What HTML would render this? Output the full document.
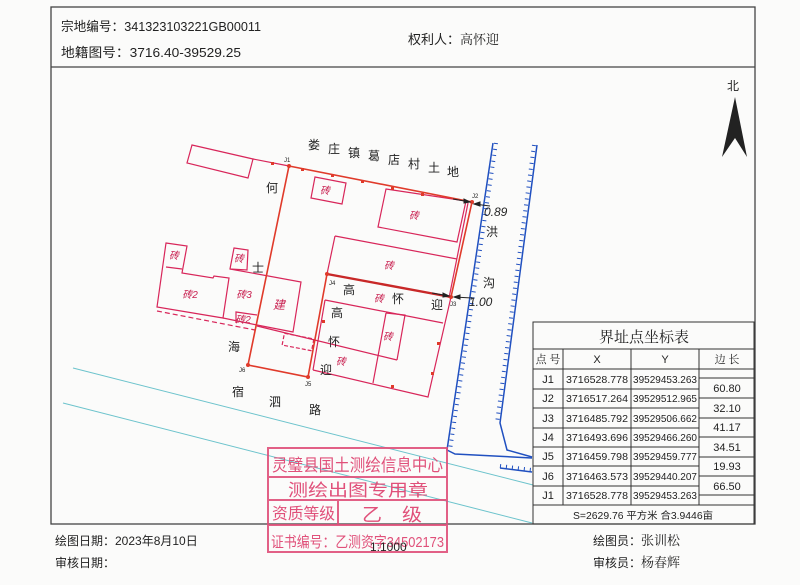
<!DOCTYPE html>
<html><head><meta charset="utf-8"><style>
html,body{margin:0;padding:0;background:#fbfbfa;}
svg{display:block;}
text{font-family:"Liberation Sans","Noto Sans CJK SC",sans-serif;}
.s{font-family:"Noto Serif CJK SC","Noto Sans CJK SC",serif;}
</style></head><body>
<svg width="800" height="585" viewBox="0 0 800 585" xmlns="http://www.w3.org/2000/svg">
<rect width="800" height="585" fill="#fbfbfa"/>
<rect x="51" y="7" width="704" height="517" fill="none" stroke="#444" stroke-width="1.3"/>
<line x1="51" y1="67" x2="755" y2="67" stroke="#444" stroke-width="1.3"/>
<text x="61" y="31" font-size="13" fill="#222" textLength="200" lengthAdjust="spacingAndGlyphs">宗地编号：341323103221GB00011</text>
<text x="61" y="57" font-size="13" fill="#222" textLength="180" lengthAdjust="spacingAndGlyphs">地籍图号：3716.40-39529.25</text>
<text x="408" y="44" font-size="13" fill="#222">权利人：<tspan class="s">高怀迎</tspan></text>
<text x="733" y="90" font-size="12" fill="#222" text-anchor="middle">北</text>
<polygon points="735,97 722,157 735,138 747,157" fill="#222"/>
<line x1="73" y1="368" x2="533" y2="485" stroke="#6cc3cc" stroke-width="1"/>
<line x1="63" y1="403" x2="532" y2="523" stroke="#6cc3cc" stroke-width="1"/>
<g stroke="#2050c0" fill="none">
<polyline points="493,143 447,450 455,454 532,458" stroke-width="1.5"/>
<polyline points="496,143 450,450" stroke-width="4" stroke-dasharray="1 5"/>
<polyline points="537,145 500,423 507,450 532,457" stroke-width="1.5"/>
<polyline points="534,145 497,423" stroke-width="4" stroke-dasharray="1 5"/>
<polyline points="500,468 532,472" stroke-width="1.5"/>
<polyline points="500,466 532,470" stroke-width="4" stroke-dasharray="1 5"/>
</g>
<g stroke="#d8265a" fill="none" stroke-width="1.2">
<polygon points="192,145 253,159 248,178 187,163"/>
<line x1="253" y1="159" x2="289" y2="166"/>
<polygon points="315,177 346,183 342,204 311,198"/>
<polygon points="386,189 466,201 457,242 378,227"/>
<polyline points="335,236 457,259"/>
<line x1="335" y1="236" x2="327" y2="274"/>
<line x1="468" y1="203" x2="449" y2="298"/>
<polyline points="325,300 443,323"/>
<polyline points="451,297 428,397 313,370"/>
<line x1="325" y1="300" x2="313" y2="370"/>
<polyline points="386,313 405,315 397,360"/>
<line x1="386" y1="313" x2="373" y2="383"/>
<polyline points="257,326 397,360"/>
<polygon points="166,243 187,246 182,273 213,278 214,276 229,278 223,318 157,307"/>
<line x1="166" y1="267" x2="182" y2="269"/>
<polygon points="234,248 248,250 247,270 230,269"/>
<polyline points="230,269 301,282 293,332 257,325 223,318"/>
<polyline points="236,323 236,312 257,315"/>
<polyline points="157,311 255,330" stroke-dasharray="5 3"/>
<rect x="283" y="336" width="30" height="12" transform="rotate(11 298 342)" stroke-dasharray="4 2"/>
</g>
<g stroke="#e03a2a" fill="none" stroke-width="1.6">
<polygon points="289,166 472,202 451,297 327,274 308,377 248,365"/>
<line x1="327" y1="274" x2="451" y2="297" stroke-width="2.4" stroke="#c82828"/>
</g>
<g fill="#e03a2a">
<circle cx="289" cy="166" r="2"/><circle cx="472" cy="202" r="2"/><circle cx="451" cy="297" r="2"/>
<circle cx="327" cy="274" r="2"/><circle cx="308" cy="377" r="2"/><circle cx="248" cy="365" r="2"/>
<rect x="271" y="162" width="3" height="3"/><rect x="301" y="168" width="3" height="3"/><rect x="331" y="174" width="3" height="3"/>
<rect x="361" y="180" width="3" height="3"/><rect x="391" y="187" width="3" height="3"/><rect x="421" y="193" width="3" height="3"/>
<rect x="322" y="320" width="3" height="3"/><rect x="437" y="342" width="3" height="3"/><rect x="431" y="372" width="3" height="3"/><rect x="391" y="385" width="3" height="3"/>
</g>
<g stroke="#222" stroke-width="1" fill="#222">
<line x1="453" y1="199" x2="470" y2="202"/><polygon points="470,202 464,199 464,203"/>
<line x1="490" y1="206" x2="474" y2="204"/><polygon points="474,204 480,202 480,206"/>
<line x1="432" y1="293" x2="449" y2="296"/><polygon points="449,296 443,293 443,297"/>
<line x1="472" y1="298" x2="454" y2="297"/><polygon points="454,297 460,295 460,299"/>
</g>
<text x="484" y="216" font-size="12" fill="#222" font-style="italic">0.89</text>
<text x="469" y="306" font-size="12" fill="#222" font-style="italic">1.00</text>
<g font-size="6" fill="#222">
<text x="284" y="162">J1</text><text x="472" y="198">J2</text><text x="450" y="306">J3</text>
<text x="329" y="285">J4</text><text x="305" y="386">J5</text><text x="239" y="372">J6</text>
</g>
<g class="s" font-size="12" fill="#222" text-anchor="middle">
<text x="314" y="149">娄</text><text x="334" y="153">庄</text><text x="354" y="157">镇</text><text x="374" y="160">葛</text>
<text x="394" y="164">店</text><text x="414" y="168">村</text><text x="434" y="172">土</text><text x="453" y="176">地</text>
<text x="272" y="192">何</text><text x="258" y="272">士</text><text x="234" y="351">海</text>
<text x="238" y="396">宿</text><text x="275" y="406">泗</text><text x="315" y="414">路</text>
<text x="349" y="294">高</text><text x="398" y="303">怀</text><text x="437" y="309">迎</text>
<text x="337" y="317">高</text><text x="334" y="346">怀</text><text x="326" y="374">迎</text>
<text x="492" y="236">洪</text><text x="489" y="287">沟</text>
</g>
<g class="s" font-size="10" fill="#c82050" text-anchor="middle" font-style="italic">
<text x="325" y="194">砖</text><text x="414" y="219">砖</text><text x="389" y="269">砖</text><text x="379" y="302">砖</text>
<text x="388" y="340">砖</text><text x="341" y="365">砖</text><text x="174" y="259">砖</text><text x="190" y="298">砖2</text>
<text x="239" y="262">砖</text><text x="244" y="298">砖3</text><text x="243" y="323">砖2</text>
<text x="279" y="309" font-size="12">建</text>
</g>
<g stroke="#333" stroke-width="1" fill="none">
<rect x="533" y="322" width="221" height="202"/>
<line x1="533" y1="349" x2="754" y2="349"/>
<line x1="533" y1="369" x2="754" y2="369"/>
<line x1="533" y1="505" x2="754" y2="505"/>
<line x1="563" y1="349" x2="563" y2="505"/>
<line x1="631" y1="349" x2="631" y2="505"/>
<line x1="699" y1="349" x2="699" y2="505"/>
<line x1="533" y1="389" x2="699" y2="389"/><line x1="533" y1="408" x2="699" y2="408"/>
<line x1="533" y1="428" x2="699" y2="428"/><line x1="533" y1="447" x2="699" y2="447"/>
<line x1="533" y1="466" x2="699" y2="466"/><line x1="533" y1="486" x2="699" y2="486"/>
<line x1="699" y1="378" x2="754" y2="378"/><line x1="699" y1="398" x2="754" y2="398"/>
<line x1="699" y1="418" x2="754" y2="418"/><line x1="699" y1="437" x2="754" y2="437"/>
<line x1="699" y1="457" x2="754" y2="457"/><line x1="699" y1="476" x2="754" y2="476"/>
<line x1="699" y1="495" x2="754" y2="495"/>
</g>
<g font-size="11" fill="#222" text-anchor="middle">
<text x="644" y="342" font-size="15" class="s">界址点坐标表</text>
<text x="548" y="363" class="s">点 号</text><text x="597" y="363">X</text><text x="665" y="363">Y</text><text x="727" y="363" class="s">边 长</text>
<text x="548" y="383">J1</text><text x="548" y="402">J2</text><text x="548" y="422">J3</text><text x="548" y="441">J4</text>
<text x="548" y="460">J5</text><text x="548" y="480">J6</text><text x="548" y="499">J1</text>
<text x="727" y="392">60.80</text><text x="727" y="412">32.10</text><text x="727" y="431">41.17</text>
<text x="727" y="451">34.51</text><text x="727" y="470">19.93</text><text x="727" y="490">66.50</text>
</g>
<g font-size="10.5" fill="#222">
<text x="566" y="383" textLength="62" lengthAdjust="spacingAndGlyphs">3716528.778</text><text x="633" y="383" textLength="64" lengthAdjust="spacingAndGlyphs">39529453.263</text>
<text x="566" y="402" textLength="62" lengthAdjust="spacingAndGlyphs">3716517.264</text><text x="633" y="402" textLength="64" lengthAdjust="spacingAndGlyphs">39529512.965</text>
<text x="566" y="422" textLength="62" lengthAdjust="spacingAndGlyphs">3716485.792</text><text x="633" y="422" textLength="64" lengthAdjust="spacingAndGlyphs">39529506.662</text>
<text x="566" y="441" textLength="62" lengthAdjust="spacingAndGlyphs">3716493.696</text><text x="633" y="441" textLength="64" lengthAdjust="spacingAndGlyphs">39529466.260</text>
<text x="566" y="460" textLength="62" lengthAdjust="spacingAndGlyphs">3716459.798</text><text x="633" y="460" textLength="64" lengthAdjust="spacingAndGlyphs">39529459.777</text>
<text x="566" y="480" textLength="62" lengthAdjust="spacingAndGlyphs">3716463.573</text><text x="633" y="480" textLength="64" lengthAdjust="spacingAndGlyphs">39529440.207</text>
<text x="566" y="499" textLength="62" lengthAdjust="spacingAndGlyphs">3716528.778</text><text x="633" y="499" textLength="64" lengthAdjust="spacingAndGlyphs">39529453.263</text>
<text x="573" y="519" font-size="10" textLength="140" lengthAdjust="spacingAndGlyphs">S=2629.76 平方米 合3.9446亩</text>
</g>
<g stroke="#e0507a" stroke-width="2" fill="none" opacity="0.9">
<rect x="268" y="448" width="179" height="104"/>
<line x1="268" y1="477" x2="447" y2="477"/><line x1="268" y1="500" x2="447" y2="500"/>
<line x1="268" y1="525" x2="447" y2="525"/><line x1="338" y1="500" x2="338" y2="525"/>
</g>
<g fill="#e0507a" font-family="'Noto Sans CJK SC',sans-serif" lengthAdjust="spacingAndGlyphs">
<text x="272" y="471" font-size="17" textLength="171" lengthAdjust="spacingAndGlyphs">灵璧县国土测绘信息中心</text>
<text x="288" y="496" font-size="17" textLength="140" lengthAdjust="spacingAndGlyphs">测绘出图专用章</text>
<text x="272" y="519" font-size="16" textLength="63" lengthAdjust="spacingAndGlyphs">资质等级</text>
<text x="362" y="521" font-size="18" textLength="60" lengthAdjust="spacingAndGlyphs">乙　级</text>
<text x="271" y="547" font-size="15" textLength="173" lengthAdjust="spacingAndGlyphs">证书编号：乙测资字34502173</text>
</g>
<text x="55" y="545" font-size="12" fill="#222">绘图日期：2023年8月10日</text>
<text x="55" y="567" font-size="12" fill="#222">审核日期：</text>
<text x="370" y="551" font-size="12" fill="#222">1:1000</text>
<text x="593" y="545" font-size="12" fill="#222">绘图员：<tspan class="s" font-size="13">张训松</tspan></text>
<text x="593" y="567" font-size="12" fill="#222">审核员：<tspan class="s" font-size="13">杨春辉</tspan></text>
</svg>
</body></html>
